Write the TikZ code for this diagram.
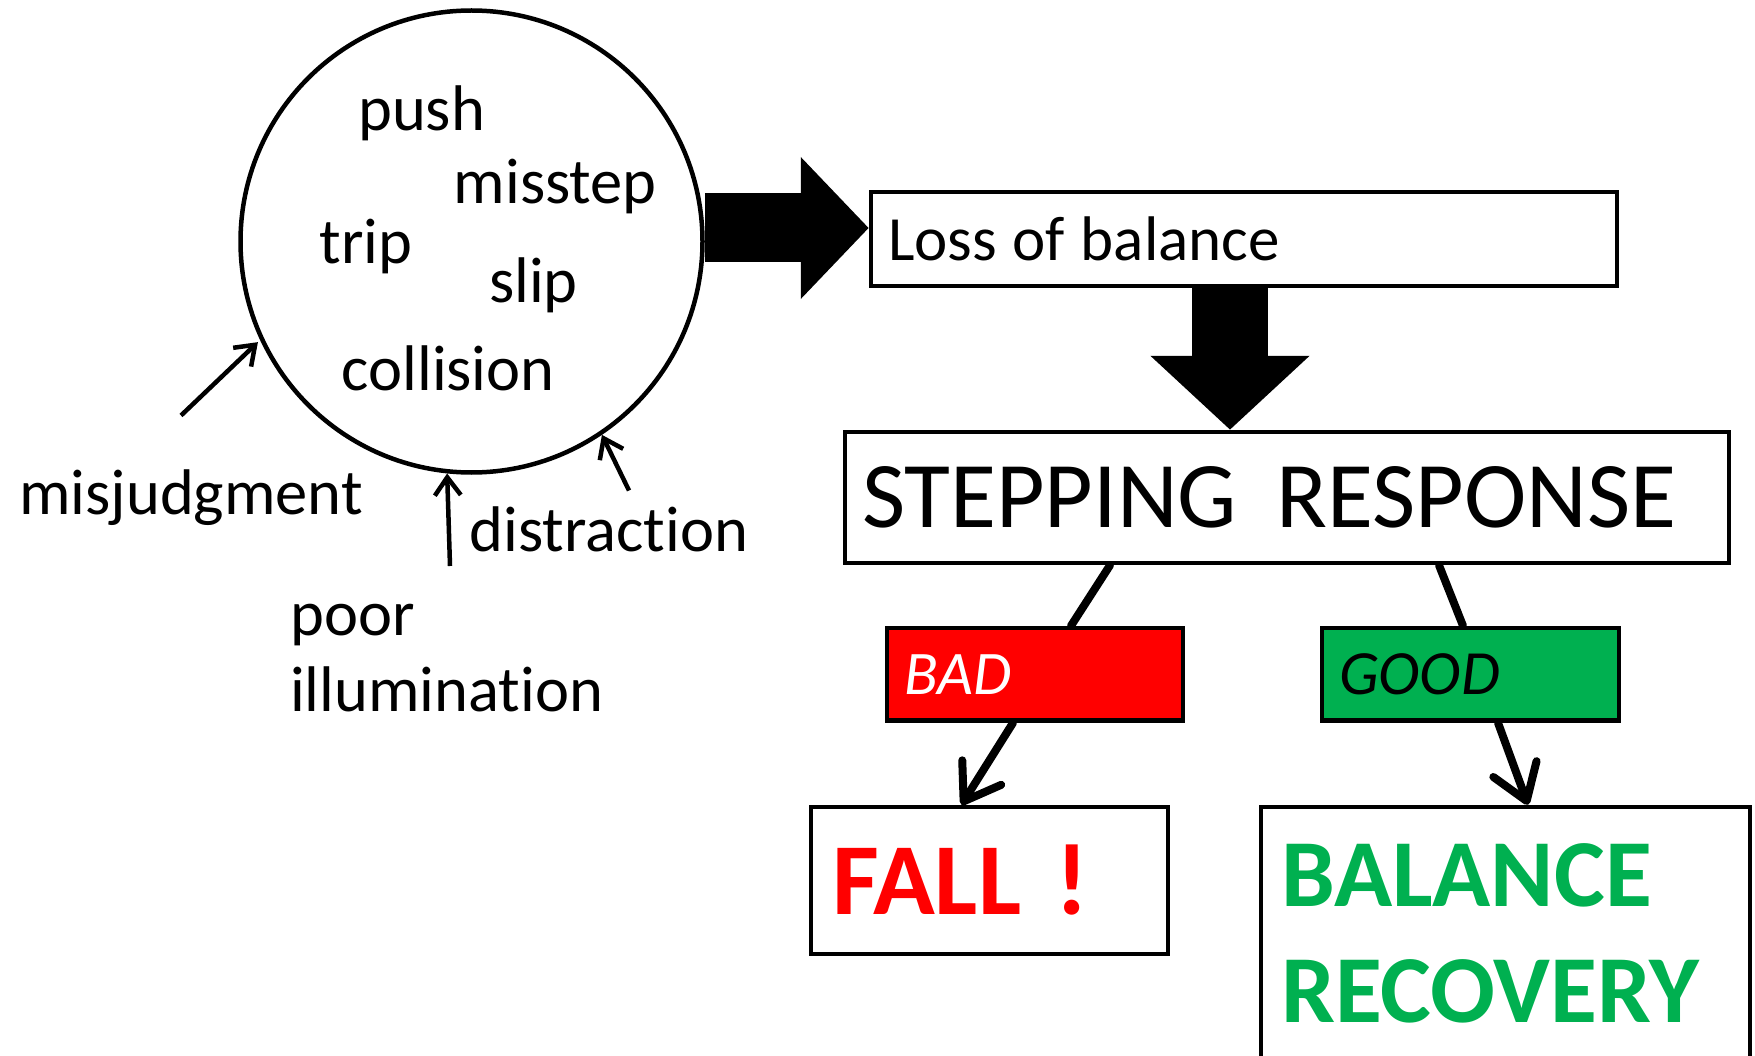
\documentclass[tikz,border=0pt]{standalone}
\usepackage{fontspec}
\setmainfont{Carlito}[Ligatures=NoCommon]
\usepackage{tikz}
\usetikzlibrary{arrows.meta, positioning, calc}
\definecolor{badcolor}{RGB}{255, 0, 0}
\definecolor{goodcolor}{RGB}{0, 176, 80}

\begin{document}
\begin{tikzpicture}[
    x=1pt, y=-1pt,
    hazard/.style={draw, circle, line width=4.5pt, minimum size=462pt, inner sep=0pt},
    word/.style={anchor=base west, inner sep=0pt, font=\fontsize{64.5}{76.5}\selectfont},
    stage/.style={draw, line width=4.5pt, align=left, inner xsep=17pt, inner ysep=0pt, font=\fontsize{63}{75}\selectfont},
    blockarrow/.style={line width=#1, -{Triangle[length=68pt, width=138pt]}},
    link/.style={line width=8pt, line cap=round},
    linkarrow/.style={link, -{Straight Barb[round, length=34pt, width=46pt]}},
    pointer/.style={line width=4.5pt, -{Straight Barb[length=18pt, width=26pt]}}
]
    \useasboundingbox (0,0) rectangle (1755,1056);

    % Causes
    \node[hazard] (cause) at (471.5, 241.5) {};
    \node[word] (push) at (358, 131) {push};
    \node[word] (misstep) at (453.5, 204) {misstep};
    \node[word] (trip) at (319.5, 264) {trip};
    \node[word] (slip) at (489, 303) {slip};
    \node[word] (collision) at (341.5, 390) {collision};

    % Contributing factors
    \node[word] (misjudgment) at (19, 514) {misjudgment};
    \node[word] (distraction) at (469.5, 551.5) {distraction};
    \node[word, align=left] (illumination) at (290, 711.5) {poor\\illumination};
    \coordinate (mjtail) at (181, 415.5);
    \coordinate (iltail) at (450, 566);
    \coordinate (dstail) at (629, 490.5);
    \draw[pointer, shorten >=3pt] (mjtail) -- (cause.205);
    \draw[pointer] (iltail) -- (cause.264.7);
    \draw[pointer] (dstail) -- (cause.304);

    % Stages
    \node[stage, text width=712pt, minimum height=94pt] (loss) at (1244, 239) {\spaceskip=0.25em\relax Loss of balance};
    \node[stage, text width=850pt, minimum height=131pt, font=\fontsize{94}{112}\selectfont] (step) at (1287, 497.5) {\spaceskip=0.42em\relax STEPPING RESPONSE};
    \node[stage, text width=262pt, minimum height=92.5pt, fill=badcolor, text=white, font=\fontsize{62}{75}\selectfont\itshape] (bad) at (1035, 674.3) {BAD};
    \node[stage, text width=263pt, minimum height=92.5pt, fill=goodcolor, font=\fontsize{63}{75}\selectfont\itshape] (good) at (1470.5, 674.3) {GOOD};
    \node[stage, inner xsep=21pt, text width=315pt, minimum height=147pt, text=badcolor, font=\fontsize{102}{120}\selectfont\bfseries] (fall) at (989.5, 880.5) {FALL !};
    \node[stage, inner xsep=20pt, text width=449pt, minimum height=253pt, text=goodcolor, font=\fontsize{96}{116}\selectfont\bfseries] (recovery) at (1505.5, 933.5) {BALANCE\\RECOVERY};

    % Arrows
    \draw[blockarrow=69pt] ([yshift=13.5]cause.east) -- ([yshift=11]loss.west);
    \draw[blockarrow=76pt, -{Triangle[length=74pt, width=155pt]}] ([xshift=-14]loss.south) -- ([xshift=-14]loss.south |- step.north);
    \draw[link] ([xshift=-177]step.south) -- ([xshift=36]bad.north);
    \draw[link] ([xshift=152]step.south) -- ([xshift=-7.5]good.north);
    \draw[linkarrow] ([xshift=-22]bad.south) -- ([xshift=-28]fall.north);
    \draw[linkarrow] ([xshift=27.5]good.south) -- ([xshift=22.5]recovery.north);

\end{tikzpicture}
\end{document}
